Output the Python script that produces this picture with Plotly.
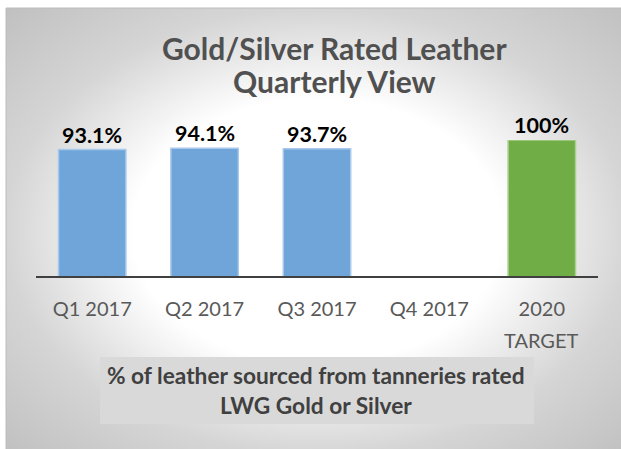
import base64
import plotly.graph_objects as go

# ---- data ----
categories = ["Q1 2017", "Q2 2017", "Q3 2017", "Q4 2017", "2020 TARGET"]
tick_labels = ["Q1 2017", "Q2 2017", "Q3 2017", "Q4 2017", "2020"]
tick_second_lines = ["", "", "", "", "TARGET"]
values = [0.931, 0.941, 0.937, None, 1.00]
value_labels = ["93.1%", "94.1%", "93.7%", "", "100%"]
bar_colors = ["#70a5da", "#70a5da", "#70a5da", "#70a5da", "#70ad47"]
bar_edges = ["#a9c9ec", "#a9c9ec", "#a9c9ec", "#a9c9ec", "#a8d08d"]
title_lines = ["Gold/Silver Rated Leather", "Quarterly View"]
caption_lines = ["% of leather sourced from tanneries rated", "LWG Gold or Silver"]

W, H = 621, 449
L, R, T, B = 36, 23, 140, 171
PW, PH = W - L - R, H - T - B


def px_x(px):
    return (px - L) / PW


def px_y(py):
    return (H - B - py) / PH


# radial gradient background as svg
svg = (
    '<svg xmlns="http://www.w3.org/2000/svg" width="624" height="447" viewBox="0 0 624 447" preserveAspectRatio="none">'
    '<defs><radialGradient id="g" cx="0.5" cy="0.5" r="0.707">'
    '<stop offset="0" stop-color="#ffffff"/>'
    '<stop offset="0.42" stop-color="#ffffff"/>'
    '<stop offset="0.707" stop-color="#d5d5d5"/>'
    '<stop offset="1" stop-color="#c0c0c0"/>'
    '</radialGradient></defs>'
    '<rect x="0" y="0" width="624" height="447" fill="url(#g)"/></svg>'
)
svg_uri = "data:image/svg+xml;base64," + base64.b64encode(svg.encode()).decode()

fig = go.Figure()
fig.add_trace(go.Bar(
    x=categories,
    y=values,
    marker=dict(color=bar_colors, line=dict(color=bar_edges, width=1.5)),
    cliponaxis=False,
    hoverinfo="skip",
))

annotations = []
# value labels above bars
for cat, val, lab in zip(categories, values, value_labels):
    if val is not None and lab:
        annotations.append(dict(
            text=lab, xref="x", yref="y", x=cat, y=val,
            xanchor="center", yanchor="bottom", yshift=0, showarrow=False,
            font=dict(family="Lato", size=21.5, color="#000000", weight="bold"),
        ))
title_y = [48.5, 81.5]
for line, py in zip(title_lines, title_y):
    annotations.append(dict(
        text=line, xref="paper", yref="paper", x=px_x(334), y=px_y(py),
        xanchor="center", yanchor="middle", showarrow=False,
        font=dict(family="Lato", size=30, color="#505050", weight="bold"),
    ))
cap_y = [375, 405.5]
for line, py in zip(caption_lines, cap_y):
    annotations.append(dict(
        text=line, xref="paper", yref="paper", x=px_x(316), y=px_y(py),
        xanchor="center", yanchor="middle", showarrow=False,
        font=dict(family="Lato", size=22.7, color="#404040", weight="bold"),
    ))
for cat, line in zip(categories, tick_second_lines):
    if line:
        annotations.append(dict(
            text=line, xref="x", yref="paper", x=cat, y=px_y(340),
            xanchor="center", yanchor="middle", showarrow=False,
            font=dict(family="Lato", size=20, color="#595959"),
        ))

shapes = [
    dict(type="rect", xref="paper", yref="paper",
         x0=px_x(6), x1=px_x(630), y0=px_y(455), y1=px_y(8),
         line=dict(color="#bcbcbc", width=1), fillcolor="rgba(0,0,0,0)", layer="below"),
    dict(type="rect", xref="paper", yref="paper",
         x0=px_x(100), x1=px_x(534), y0=px_y(424), y1=px_y(357),
         line=dict(width=0), fillcolor="#d9d9d9", layer="below"),
    dict(type="line", xref="paper", yref="y", x0=0, x1=1, y0=0, y1=0,
         line=dict(color="#404040", width=4), layer="above"),
]

fig.update_layout(
    width=W, height=H,
    margin=dict(l=L, r=R, t=T, b=B, pad=0),
    paper_bgcolor="#ffffff",
    plot_bgcolor="rgba(0,0,0,0)",
    showlegend=False,
    bargap=0.4,
    annotations=annotations,
    shapes=shapes,
    images=[dict(source=svg_uri, xref="paper", yref="paper",
                 x=px_x(6), y=px_y(8), sizex=624 / PW, sizey=447 / PH,
                 xanchor="left", yanchor="top", sizing="stretch", layer="below")],
    xaxis=dict(
        type="category", categoryorder="array", categoryarray=categories,
        tickvals=categories, ticktext=tick_labels,
        range=[-0.5, 4.5], showline=False, showgrid=False, zeroline=False,
        ticks="", ticklabelstandoff=17,
        tickfont=dict(family="Lato", size=20, color="#595959"),
    ),
    yaxis=dict(range=[0, 1.0], visible=False, showgrid=False, zeroline=False),
)

fig.write_html("out.html", config={"displayModeBar": False},
               post_script="document.body.style.margin='0';")
